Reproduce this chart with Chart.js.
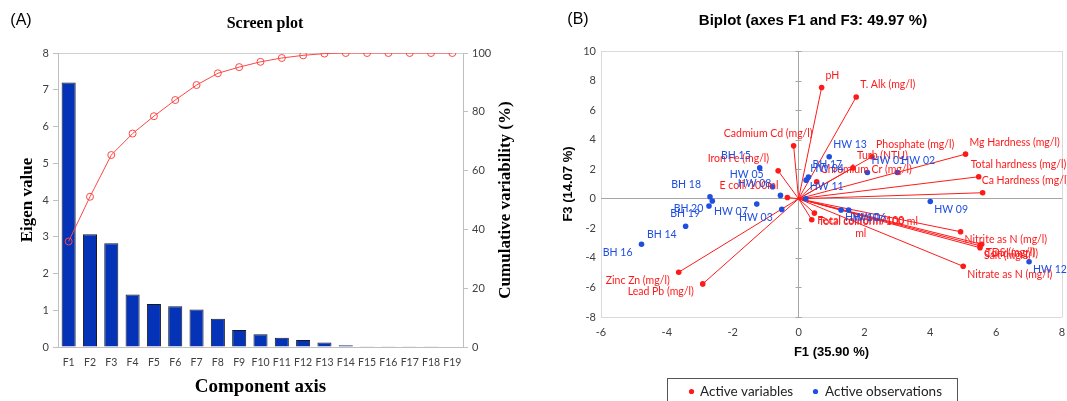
<!DOCTYPE html>
<html>
<head>
<meta charset="utf-8">
<script src="https://cdn.jsdelivr.net/npm/chart.js@4.4.0/dist/chart.umd.min.js"></script>
<style>
  html, body { margin: 0; padding: 0; background: #fff; }
  #wrap { position: relative; width: 1067px; height: 401px; overflow: hidden; }
  #cA { position: absolute; left: 0; top: 0; }
  #cB { position: absolute; left: 530px; top: 0; }
</style>
</head>
<body>
<div id="wrap">
  <canvas id="cA" width="530" height="401"></canvas>
  <canvas id="cB" width="537" height="401"></canvas>
</div>
<script>
// (A) scree plot
const components = ['F1','F2','F3','F4','F5','F6','F7','F8','F9','F10','F11','F12','F13','F14','F15','F16','F17','F18','F19'];
const eigenValues = [7.20, 3.07, 2.82, 1.43, 1.17, 1.11, 1.02, 0.77, 0.46, 0.35, 0.25, 0.19, 0.12, 0.05, 0.02, 0.01, 0.01, 0.01, 0.00];
const cumulative  = [35.9, 51.1, 65.3, 72.6, 78.5, 84.0, 89.1, 93.1, 95.2, 97.0, 98.3, 99.2, 99.8, 100, 100, 100, 100, 100, 100];

// (B) biplot F1 / F3
const varNames = ['pH','T. Alk (mg/l)','Cadmium Cd (mg/l)','Iron Fe (mg/l)','E coli/100ml','Phosphate (mg/l)','Turb (NTU)',
  'Chromium Cr (mg/l)','Mg Hardness (mg/l)','Total hardness (mg/l)','Ca Hardness (mg/l)','Nitrite as N (mg/l)','Nitrate as N (mg/l)',
  'Cond (mg/l)','TDS (mg/l)','Salt (mg/l)','Total coliform/100 ml','Fecal coliform/100\nml','Zinc Zn (mg/l)','Lead Pb (mg/l)'];
const varF1 = [0.70, 1.75, -0.15, -0.62, -0.34, 2.23, 1.65, 0.55, 5.07, 5.47, 5.59, 4.92, 5.00, 5.51, 5.56, 5.51, 0.48, 0.40, -3.64, -2.91];
const varF3 = [7.53, 6.89, 3.58, 1.89, 0.09, 2.84, 2.09, 1.15, 3.02, 1.49, 0.41, -2.23, -4.57, -3.18, -3.08, -3.31, -0.97, -1.42, -4.97, -5.76];

const obsNames = ['HW 01','HW 02','HW 03','HW 04','HW 05','HW 06','HW 07','HW 08','HW 09','HW 10','HW 11','HW 12','HW 13',
  'BH 14','BH 15','BH 16','BH 17','BH 18','BH 19','BH 20'];
const obsF1 = [2.09, 3.00, -0.51, 0.23, -0.79, 1.52, -1.27, -0.55, 4.00, 1.29, 0.22, 7.00, 0.93, -3.43, -1.18, -4.77, 0.30, -2.69, -2.72, -2.62];
const obsF3 = [1.78, 1.78, -0.72, 1.26, 0.81, -0.76, -0.36, 0.23, -0.18, -0.76, 0.00, -4.26, 2.84, -1.86, 2.09, -3.08, 1.47, 0.14, -0.49, -0.15];

const RED = '#ff1a1a', BLUE = '#1f4fe0', TICK = '#404040';
const SERIF = '"Liberation Serif", "Times New Roman", serif';
const SANS = '"Liberation Sans", Arial, sans-serif';

// label tweaks where XLSTAT moved the text
const labelNudge = {
  'Cadmium Cd (mg/l)': { dx: 28 },
  'Total hardness (mg/l)': { dx: -12 },
  'Ca Hardness (mg/l)': { dx: -5 },
  'Fecal coliform/100\nml': { dx: 45, dy: -7, align: 'center' }
};

const screeText = {
  id: 'screeText',
  afterDraw(chart) {
    const { ctx, chartArea } = chart;
    ctx.save();
    ctx.fillStyle = '#000';
    ctx.textBaseline = 'middle';
    ctx.textAlign = 'center';
    ctx.font = '16px ' + SANS;
    ctx.fillText('(A)', 21, 21);
    ctx.font = 'bold 16px ' + SERIF;
    ctx.fillText('Screen plot', 265, 24);
    ctx.font = 'bold 19px ' + SERIF;
    ctx.fillText('Component axis', (chartArea.left + chartArea.right) / 2, 387);
    const midY = (chartArea.top + chartArea.bottom) / 2;
    ctx.font = 'bold 17px ' + SERIF;
    ctx.save(); ctx.translate(28, midY); ctx.rotate(-Math.PI / 2); ctx.fillText('Eigen value', 0, 0); ctx.restore();
    ctx.save(); ctx.translate(506, midY); ctx.rotate(-Math.PI / 2); ctx.fillText('Cumulative variability (%)', 0, 0); ctx.restore();
    ctx.restore();
  }
};

new Chart(document.getElementById('cA'), {
  type: 'bar',
  data: {
    labels: components,
    datasets: [
      { type: 'line', label: 'Cumulative variability (%)', data: cumulative, yAxisID: 'y1', order: 0,
        borderColor: '#ff4646', borderWidth: 1, backgroundColor: 'rgba(255,255,255,0)',
        pointRadius: 3.5, pointBorderWidth: 1, pointBorderColor: '#ff4646', pointBackgroundColor: 'rgba(255,255,255,0)', tension: 0 },
      { type: 'bar', label: 'Eigen value', data: eigenValues, yAxisID: 'y', order: 1,
        backgroundColor: '#0433b8', borderColor: '#1a1a1a', borderWidth: 1,
        barPercentage: 0.66, categoryPercentage: 1 }
    ]
  },
  options: {
    responsive: false, animation: false, devicePixelRatio: 1,
    layout: { padding: { top: 53, left: 0, right: 0, bottom: 0 } },
    plugins: { legend: { display: false }, tooltip: { enabled: false } },
    scales: {
      x: {
        grid: { display: false, drawTicks: false }, border: { color: '#bfbfbf' },
        ticks: { color: TICK, font: { family: 'Lato', size: 10.5 }, padding: 9, maxRotation: 0, autoSkip: false },
        afterFit(s) { s.height = 54; }
      },
      y: {
        position: 'left', min: 0, max: 8,
        ticks: { stepSize: 1, color: TICK, font: { family: 'Lato', size: 11 }, padding: 4 },
        grid: { color: c => (c.tick && c.tick.value === 8) ? '#d0d0d0' : 'rgba(0,0,0,0)', tickColor: '#bfbfbf', tickLength: 5 },
        border: { color: '#bfbfbf' },
        afterFit(s) { s.width = 58; }
      },
      y1: {
        position: 'right', min: 0, max: 100,
        ticks: { stepSize: 20, color: TICK, font: { family: 'Lato', size: 11 }, padding: 4 },
        grid: { drawOnChartArea: false, tickColor: '#bfbfbf', tickLength: 5 },
        border: { color: '#bfbfbf' },
        afterFit(s) { s.width = 67; }
      }
    }
  },
  plugins: [screeText]
});

function drawPointLabels(ctx, meta, names, xs, ys, color) {
  ctx.fillStyle = color;
  meta.data.forEach((pt, i) => {
    const right = xs[i] >= 0, up = ys[i] >= 0;
    const n = labelNudge[names[i]] || {};
    const tx = pt.x + (right ? 4 : -9) + (n.dx || 0);
    const ty = pt.y + (up ? -12 : 8) + (n.dy || 0);
    ctx.textAlign = n.align || (right ? 'left' : 'right');
    names[i].split('\n').forEach((line, k) => ctx.fillText(line, tx, ty + k * 13));
  });
}

const biplotDecor = {
  id: 'biplotDecor',
  beforeDatasetsDraw(chart) {
    const { ctx, scales: { x, y } } = chart;
    const x0 = x.getPixelForValue(0), y0 = y.getPixelForValue(0);
    ctx.save();
    ctx.lineWidth = 1;
    ctx.strokeStyle = '#a6a6a6';
    y.ticks.forEach(t => {
      const py = Math.round(y.getPixelForValue(t.value)) + 0.5;
      ctx.beginPath(); ctx.moveTo(x0 - 3, py); ctx.lineTo(x0 + 3, py); ctx.stroke();
    });
    ctx.strokeStyle = RED;
    varF1.forEach((v, i) => {
      ctx.beginPath(); ctx.moveTo(x0, y0);
      ctx.lineTo(x.getPixelForValue(v), y.getPixelForValue(varF3[i])); ctx.stroke();
    });
    ctx.restore();
  },
  afterDatasetsDraw(chart) {
    const { ctx } = chart;
    ctx.save();
    ctx.font = '10.5px Lato';
    ctx.textBaseline = 'middle';
    drawPointLabels(ctx, chart.getDatasetMeta(0), varNames, varF1, varF3, RED);
    drawPointLabels(ctx, chart.getDatasetMeta(1), obsNames, obsF1, obsF3, BLUE);
    ctx.restore();
  },
  afterDraw(chart) {
    const { ctx, chartArea } = chart;
    ctx.save();
    ctx.fillStyle = '#000';
    ctx.textBaseline = 'middle';
    ctx.textAlign = 'center';
    ctx.font = '16px ' + SANS;
    ctx.fillText('(B)', 48, 20);
    ctx.font = 'bold 15px ' + SANS;
    ctx.fillText('Biplot (axes F1 and F3: 49.97 %)', 283, 21);
    ctx.font = 'bold 13px ' + SANS;
    ctx.fillText('F1 (35.90 %)', (chartArea.left + chartArea.right) / 2, 352);
    ctx.save(); ctx.translate(38, (chartArea.top + chartArea.bottom) / 2); ctx.rotate(-Math.PI / 2);
    ctx.fillText('F3 (14.07 %)', 0, 0); ctx.restore();
    // legend box
    ctx.strokeStyle = '#555'; ctx.lineWidth = 1;
    ctx.strokeRect(137.5, 378.5, 290, 30);
    ctx.font = '13.5px Lato';
    ctx.textAlign = 'left';
    const ds = chart.data.datasets;
    [[161.5, 170], [285.5, 295]].forEach(([dx, tx], i) => {
      ctx.fillStyle = ds[i].backgroundColor;
      ctx.beginPath(); ctx.arc(dx, 391.5, 2.6, 0, Math.PI * 2); ctx.fill();
      ctx.fillStyle = '#222';
      ctx.fillText(ds[i].label, tx, 391.5);
    });
    ctx.restore();
  }
};

const edgeGrid = (zero, lo, hi) => c => {
  const v = c.tick && c.tick.value;
  if (v === zero) return '#a6a6a6';
  if (v === lo || v === hi) return '#d9d9d9';
  return 'rgba(0,0,0,0)';
};

new Chart(document.getElementById('cB'), {
  type: 'scatter',
  data: {
    datasets: [
      { label: 'Active variables', data: varF1.map((v, i) => ({ x: v, y: varF3[i] })),
        backgroundColor: RED, borderColor: RED, pointRadius: 2.8, borderWidth: 0 },
      { label: 'Active observations', data: obsF1.map((v, i) => ({ x: v, y: obsF3[i] })),
        backgroundColor: BLUE, borderColor: BLUE, pointRadius: 2.8, borderWidth: 0 }
    ]
  },
  options: {
    responsive: false, animation: false, devicePixelRatio: 1,
    layout: { padding: { top: 51, right: 5, left: 0, bottom: 0 } },
    plugins: { legend: { display: false }, tooltip: { enabled: false } },
    scales: {
      x: {
        type: 'linear', min: -6, max: 8,
        ticks: { stepSize: 2, color: TICK, font: { family: 'Lato', size: 11 }, padding: 9 },
        grid: { color: edgeGrid(0, -6, 8), drawTicks: false }, border: { display: false },
        afterFit(s) { s.height = 84; s.paddingLeft = 0; s.paddingRight = 0; }
      },
      y: {
        type: 'linear', min: -8, max: 10,
        ticks: { stepSize: 2, color: TICK, font: { family: 'Lato', size: 11 }, padding: 5 },
        grid: { color: edgeGrid(0, -8, 10), drawTicks: false }, border: { display: false },
        afterFit(s) { s.width = 71; s.paddingTop = 0; s.paddingBottom = 0; }
      }
    }
  },
  plugins: [biplotDecor]
});
</script>
</body>
</html>
